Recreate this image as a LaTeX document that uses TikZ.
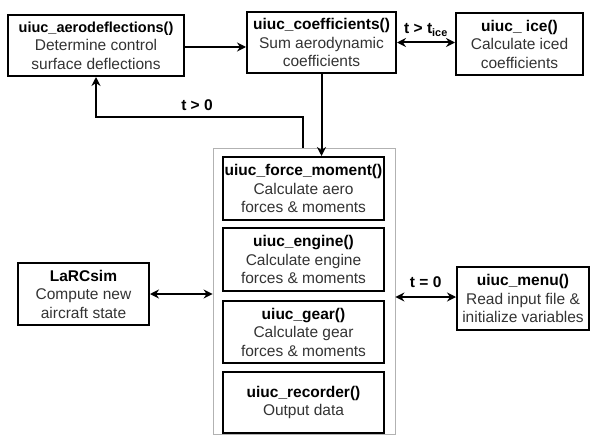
\documentclass[tikz,border=0pt]{standalone}
\usepackage{fontspec}
\setmainfont{Liberation Sans}
\usetikzlibrary{arrows.meta}
\begin{document}
\begin{tikzpicture}[
    x=1pt, y=-1pt,
    funcbox/.style={rectangle, draw, line width=2pt, align=center, inner sep=0pt,
        font=\fontsize{15.5}{18.5}\selectfont, text=black!80},
    groupbox/.style={rectangle, draw=black!30, line width=0.8pt},
    arrow/.style={-{Stealth[length=9pt,width=9pt]}, line width=2pt},
    dblarrow/.style={{Stealth[length=9pt,width=9pt]}-{Stealth[length=9pt,width=9pt]}, line width=2pt},
    lbl/.style={font=\fontsize{15.5}{17}\selectfont\bfseries}
]
\useasboundingbox (0,0) rectangle (591,436);

% top row
\node[funcbox, minimum width=176pt, minimum height=61pt] (aero) at (96,45.5)
    {\textcolor{black}{\fontsize{14.5}{18.5}\selectfont\textbf{uiuc\_aerodeflections()}}\\Determine control\\surface deflections};
\node[funcbox, minimum width=149pt, minimum height=61pt] (coef) at (321.5,42.5)
    {\textcolor{black}{\textbf{uiuc\_coefficients()}}\\Sum aerodynamic\\coefficients};
\node[funcbox, minimum width=127pt, minimum height=62pt] (ice) at (519.5,44)
    {\textcolor{black}{\textbf{uiuc\_ ice()}}\\Calculate iced\\coefficients};

% group of force routines
\node[groupbox, minimum width=182pt, minimum height=286pt] (group) at (304,291) {};
\node[funcbox, minimum width=161pt, minimum height=63pt] (force) at (303.5,188.5)
    {\textcolor{black}{\textbf{uiuc\_force\_moment()}}\\Calculate aero\\forces \& moments};
\node[funcbox, minimum width=161pt, minimum height=63pt] (engine) at (303.5,259.5)
    {\textcolor{black}{\textbf{uiuc\_engine()}}\\Calculate engine\\forces \& moments};
\node[funcbox, minimum width=161pt, minimum height=62pt] (gear) at (303.5,332)
    {\textcolor{black}{\textbf{uiuc\_gear()}}\\Calculate gear\\forces \& moments};
\node[funcbox, minimum width=161pt, minimum height=61pt] (recorder) at (303.5,402.5)
    {\textcolor{black}{\textbf{uiuc\_recorder()}}\\Output data};

% side boxes
\node[funcbox, minimum width=131pt, minimum height=62pt] (larc) at (83.5,294)
    {\textcolor{black}{\textbf{LaRCsim}}\\Compute new\\aircraft state};
\node[funcbox, minimum width=132pt, minimum height=63pt] (menu) at (523,298.5)
    {\textcolor{black}{\textbf{uiuc\_menu()}}\\Read input file \&\\initialize variables};

% arrows
\draw[arrow] ([yshift=-1.5pt]aero.east) -- ([yshift=-1.5pt]aero.east -| coef.west);
\draw[dblarrow] (coef.east) -- (coef.east -| ice.west)
    node[lbl, midway, above=2pt] {t > t\textsubscript{ice}};
\draw[arrow] (coef.south) -- (coef.south |- force.north);
\draw[arrow] ([xshift=-1pt]group.north) -- ++(0,-31) coordinate (loop)
    -| (aero.south);
\node[lbl, above=3pt] (tpos) at (197,117) {t > 0};
\draw[dblarrow] (larc.east) -- (larc.east -| group.west);
\draw[dblarrow] ([yshift=1.5pt]menu.west) -- ([yshift=1.5pt]menu.west -| group.east)
    node[lbl, midway, above=5pt] {t = 0};

\end{tikzpicture}
\end{document}
